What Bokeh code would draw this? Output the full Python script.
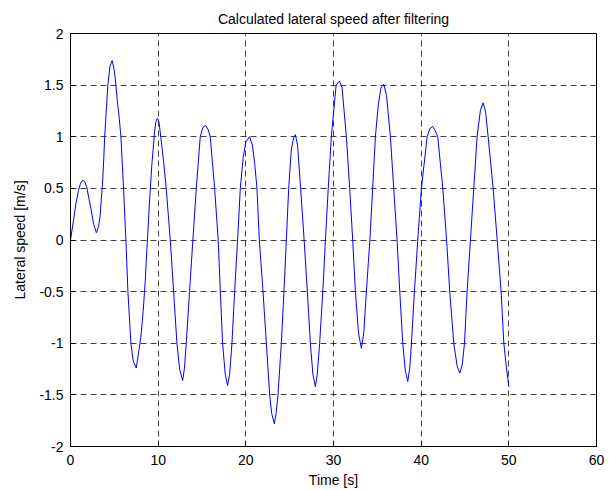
from bokeh.plotting import figure
from bokeh.embed import file_html
from bokeh.resources import INLINE
from bokeh.models import Range1d, FixedTicker

# Data (time [s], lateral speed [m/s])
time_s = [
    0.00, 0.34, 0.61, 0.91, 1.15, 1.40, 1.65, 1.86, 2.10, 2.36, 2.65, 2.95,
    3.20, 3.39, 3.52, 3.65, 3.80, 3.90, 4.26, 4.50, 4.75, 4.95, 5.10, 5.35,
    5.56, 5.75, 6.05, 6.32, 6.55, 6.89, 7.15, 7.50, 7.84, 8.05, 8.30, 8.52,
    8.71, 8.98, 9.28, 9.59, 9.75, 9.93, 10.10, 10.31, 10.62, 10.92, 11.38, 11.76,
    12.14, 12.45, 12.79, 13.00, 13.20, 13.58, 13.96, 14.35, 14.80, 15.10, 15.41, 15.70,
    15.94, 16.44, 16.85, 17.09, 17.35, 17.65, 17.92, 18.15, 18.42, 18.72, 19.06, 19.37,
    19.70, 20.00, 20.43, 20.75, 21.00, 21.27, 21.54, 21.96, 22.34, 22.72, 22.95, 23.25,
    23.45, 23.67, 24.05, 24.35, 24.62, 24.89, 25.19, 25.45, 25.65, 25.90, 26.25, 26.65,
    27.02, 27.36, 27.65, 27.93, 28.15, 28.42, 28.78, 29.08, 29.40, 29.75, 30.30, 30.67,
    30.97, 31.47, 31.85, 32.19, 32.50, 32.85, 33.18, 33.45, 33.75, 34.15, 34.47, 34.78,
    35.10, 35.40, 35.73, 36.05, 36.49, 36.87, 37.25, 37.56, 37.90, 38.20, 38.47, 38.70,
    38.89, 39.23, 39.61, 40.03, 40.68, 41.00, 41.32, 41.60, 41.89, 42.47, 42.90, 43.26,
    43.72, 44.10, 44.41, 44.70, 44.94, 45.24, 45.62, 46.00, 46.38, 46.75, 47.07, 47.35,
    47.64, 48.21, 48.67, 49.12, 49.43, 49.70, 50.00,
]
lateral_speed = [
    0.00, 0.19, 0.35, 0.48, 0.55, 0.58, 0.56, 0.51, 0.40, 0.29, 0.15, 0.07,
    0.13, 0.24, 0.40, 0.54, 0.80, 1.00, 1.50, 1.68, 1.74, 1.66, 1.57, 1.34,
    1.18, 1.00, 0.50, 0.00, -0.50, -1.00, -1.17, -1.24, -1.05, -0.92, -0.68, -0.40,
    -0.10, 0.32, 0.73, 1.05, 1.15, 1.18, 1.14, 0.99, 0.76, 0.50, 0.00, -0.50,
    -1.00, -1.25, -1.36, -1.24, -1.00, -0.50, 0.00, 0.50, 1.00, 1.09, 1.11, 1.07,
    1.00, 0.50, 0.00, -0.50, -1.00, -1.30, -1.41, -1.30, -1.00, -0.50, 0.00, 0.50,
    0.80, 0.95, 1.00, 0.92, 0.75, 0.50, 0.00, -0.50, -1.00, -1.50, -1.68, -1.78,
    -1.68, -1.50, -1.00, -0.50, 0.00, 0.50, 0.88, 0.99, 1.02, 0.92, 0.50, 0.00,
    -0.50, -1.00, -1.30, -1.42, -1.30, -1.00, -0.50, 0.00, 0.50, 1.00, 1.50, 1.54,
    1.48, 1.00, 0.50, 0.00, -0.50, -0.90, -1.05, -0.90, -0.50, 0.00, 0.50, 1.00,
    1.30, 1.47, 1.51, 1.40, 1.00, 0.50, 0.00, -0.50, -1.00, -1.27, -1.37, -1.24,
    -1.00, -0.50, 0.00, 0.50, 1.00, 1.08, 1.10, 1.06, 1.00, 0.50, 0.00, -0.50,
    -1.00, -1.22, -1.29, -1.20, -1.00, -0.50, 0.00, 0.50, 1.00, 1.25, 1.33, 1.24,
    1.00, 0.50, 0.00, -0.50, -1.00, -1.22, -1.42,
]

x_ticks = [0, 10, 20, 30, 40, 50, 60]
x_tick_labels = ["0", "10", "20", "30", "40", "50", "60"]
y_ticks = [-2, -1.5, -1, -0.5, 0, 0.5, 1, 1.5, 2]
y_tick_labels = ["-2", "-1.5", "-1", "-0.5", "0", "0.5", "1", "1.5", "2"]

FONT = "Liberation Sans"

p = figure(
    width=613, height=490,
    output_backend="svg", toolbar_location=None,
    x_range=Range1d(0, 60), y_range=Range1d(-2, 2),
    title="Calculated lateral speed after filtering",
    min_border_left=70, min_border_right=17, min_border_top=33, min_border_bottom=43,
)

p.line(time_s, lateral_speed, line_color="#0000ff", line_width=1)

p.title.align = "center"
p.title.text_font = FONT
p.title.text_font_size = "14px"
p.title.text_font_style = "normal"
p.title.text_color = "black"
p.title.standoff = 14

p.xaxis.ticker = FixedTicker(ticks=x_ticks)
p.yaxis.ticker = FixedTicker(ticks=y_ticks)
p.xaxis.major_label_overrides = {t: l for t, l in zip(x_ticks, x_tick_labels)}
p.yaxis.major_label_overrides = {t: l for t, l in zip(y_ticks, y_tick_labels)}
p.xaxis.axis_label = "Time [s]"
p.yaxis.axis_label = "Lateral speed [m/s]"

for ax in (p.xaxis, p.yaxis):
    ax.axis_label_text_font = FONT
    ax.axis_label_text_font_size = "14px"
    ax.axis_label_text_font_style = "normal"
    ax.axis_label_text_color = "black"
    ax.major_label_text_font = FONT
    ax.major_label_text_font_size = "14px"
    ax.major_label_text_color = "black"
    ax.axis_line_color = "black"
    ax.major_tick_line_color = "black"
    ax.major_tick_in = 5
    ax.major_tick_out = 0
    ax.minor_tick_line_color = None

p.xaxis.major_label_standoff = 8
p.yaxis.major_label_standoff = 7
p.xaxis.axis_label_standoff = 4
p.yaxis.axis_label_standoff = 8

p.grid.grid_line_color = "black"
p.grid.grid_line_alpha = 0.75
p.grid.grid_line_dash = "6 4"
p.grid.grid_line_width = 1

p.outline_line_color = "black"
p.outline_line_alpha = 1
p.outline_line_width = 1
p.background_fill_color = "white"
p.border_fill_color = "white"

open("out.html", "w").write(file_html(p, INLINE))
